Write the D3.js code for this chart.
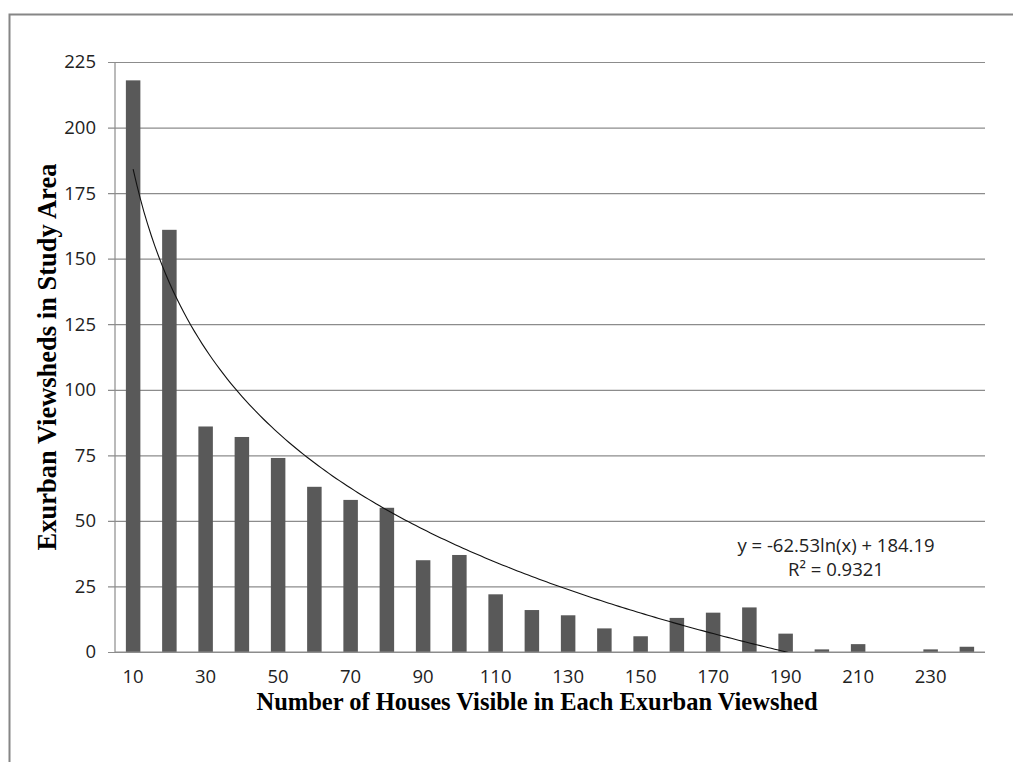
<!DOCTYPE html>
<html>
<head>
<meta charset="utf-8">
<script src="https://cdn.jsdelivr.net/npm/d3@7"></script>
<style>
  body { margin: 0; background: #fff; }
  svg { display: block; }
</style>
</head>
<body>
<svg id="chart" width="1013" height="762"></svg>
<script>
// houses visible per viewshed (category labels) and how many viewsheds fall in each bin
const houses = [10, 20, 30, 40, 50, 60, 70, 80, 90, 100, 110, 120,
                130, 140, 150, 160, 170, 180, 190, 200, 210, 220, 230, 240];
const viewsheds = [218, 161, 86, 82, 74, 63, 58, 55, 35, 37, 22, 16,
                   14, 9, 6, 13, 15, 17, 7, 1, 3, 0, 1, 2];
const yTicks = [0, 25, 50, 75, 100, 125, 150, 175, 200, 225];
// log trendline y = a*ln(x) + b, x = category index starting at 1
const trendA = -62.53;
const trendB = 184.19;
const trendLabel = ["y = -62.53ln(x) + 184.19", "R\u00b2 = 0.9321"];

const svg = d3.select("#chart");
const margin = { left: 115, top: 62, right: 28, bottom: 110 };
const width = 1013, height = 762;
const plotW = width - margin.left - margin.right;
const plotH = height - margin.top - margin.bottom;
const tickFont = "'Open Sans', 'Noto Sans', sans-serif";
const titleFont = "'Liberation Serif', 'Times New Roman', serif";

// outer chart border (only left and top edges fall inside the picture)
svg.append("rect")
   .attr("x", 9.5).attr("y", 14.5)
   .attr("width", 1020).attr("height", 800)
   .attr("fill", "none")
   .attr("stroke", "#868686")
   .attr("stroke-width", 2);

const x = d3.scaleBand().domain(houses).range([0, plotW]).paddingInner(0.6).paddingOuter(0.3);
const y = d3.scaleLinear().domain([0, 225]).range([plotH, 0]);

const g = svg.append("g").attr("transform", `translate(${margin.left},${margin.top})`);

// horizontal gridlines + tick marks to the left of the axis
const yAxis = d3.axisLeft(y).tickValues(yTicks).tickSize(-plotW);
const yg = g.append("g").call(yAxis);
yg.select(".domain").remove();
yg.selectAll(".tick line")
  .attr("x1", -7)
  .attr("stroke", "#8c8c8c")
  .attr("stroke-width", 1.2);
yg.selectAll(".tick text")
  .attr("x", -19)
  .style("font-family", tickFont)
  .style("font-size", "18.5px")
  .style("fill", "#222");

// vertical axis line
g.append("line")
 .attr("x1", 0).attr("x2", 0)
 .attr("y1", 0).attr("y2", plotH)
 .attr("stroke", "#8c8c8c")
 .attr("stroke-width", 1.2);

// bars
g.selectAll("rect.bar")
 .data(houses)
 .join("rect")
 .attr("class", "bar")
 .attr("x", d => x(d))
 .attr("width", x.bandwidth())
 .attr("y", (d, i) => y(viewsheds[i]))
 .attr("height", (d, i) => plotH - y(viewsheds[i]))
 .attr("fill", "#595959");

// x axis: labels on every other category, no tick marks
const xAxis = d3.axisBottom(x)
  .tickValues(houses.filter((d, i) => i % 2 === 0))
  .tickSize(0)
  .tickPadding(18);
const xg = g.append("g").attr("transform", `translate(0,${plotH})`).call(xAxis);
xg.select(".domain").remove();
xg.selectAll(".tick text")
  .style("font-family", tickFont)
  .style("font-size", "18.5px")
  .style("fill", "#222");

// redraw baseline on top of bars
g.append("line")
 .attr("x1", 0).attr("x2", plotW)
 .attr("y1", plotH).attr("y2", plotH)
 .attr("stroke", "#8c8c8c")
 .attr("stroke-width", 1.2);

// trendline, clipped at the 0 baseline like Excel does
g.append("clipPath").attr("id", "plotClip")
 .append("rect").attr("width", plotW).attr("height", plotH);
const trendPts = d3.range(1, houses.length + 0.001, 0.1)
  .map(t => ({ pos: x(houses[0]) + x.bandwidth() / 2 + (t - 1) * x.step(),
               val: trendA * Math.log(t) + trendB }));
g.append("path")
 .datum(trendPts)
 .attr("clip-path", "url(#plotClip)")
 .attr("fill", "none")
 .attr("stroke", "#111")
 .attr("stroke-width", 1.1)
 .attr("d", d3.line().x(d => d.pos).y(d => y(d.val)));

// trendline equation
svg.append("text")
   .attr("x", 836).attr("y", 552)
   .attr("text-anchor", "middle")
   .style("font-family", tickFont)
   .style("font-size", "18.5px")
   .style("fill", "#222")
   .selectAll("tspan")
   .data(trendLabel)
   .join("tspan")
   .attr("x", 836)
   .attr("dy", (d, i) => i === 0 ? 0 : 24)
   .text(d => d);

// axis titles
svg.append("text")
   .attr("x", 537).attr("y", 710)
   .attr("text-anchor", "middle")
   .style("font-family", titleFont)
   .style("font-weight", "bold")
   .style("font-size", "24.5px")
   .text("Number of Houses Visible in Each Exurban Viewshed");

svg.append("text")
   .attr("transform", "translate(56,357) rotate(-90)")
   .attr("text-anchor", "middle")
   .style("font-family", titleFont)
   .style("font-weight", "bold")
   .style("font-size", "26.5px")
   .text("Exurban Viewsheds in Study Area");
</script>
</body>
</html>
